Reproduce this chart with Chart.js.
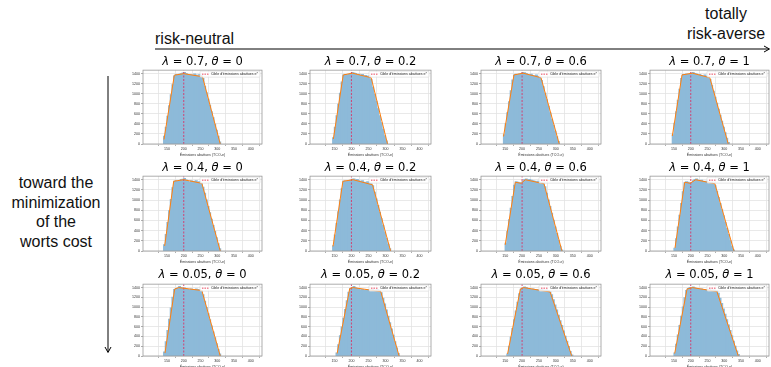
<!DOCTYPE html>
<html>
<head>
<meta charset="utf-8">
<script src="https://cdn.jsdelivr.net/npm/chart.js@4.4.1/dist/chart.umd.min.js"></script>
<style>
  body { margin: 0; background: #fff; }
  #fig { position: relative; width: 771px; height: 367px; overflow: hidden; font-family: "Liberation Sans", Arial, sans-serif; }
  .title { position: absolute; font-family: "DejaVu Sans", sans-serif; font-size: 11.5px; white-space: nowrap; transform: translate(-50%, -50%); color: #000; }
  .title i { font-style: oblique; }
  .note { position: absolute; font-size: 16px; line-height: 20px; color: #111; white-space: nowrap; }
  canvas { position: absolute; }
</style>
</head>
<body>
<div id="fig">
  <svg width="771" height="367" style="position:absolute;left:0;top:0">
    <line x1="155" y1="49" x2="769" y2="49" stroke="#000" stroke-width="1"/>
    <polyline points="764,46 769.5,49 764,52" fill="none" stroke="#000" stroke-width="1"/>
    <line x1="108" y1="76" x2="108" y2="352" stroke="#000" stroke-width="1"/>
    <polyline points="105,347 108,352.5 111,347" fill="none" stroke="#000" stroke-width="1"/>
  </svg>
  <div class="note" style="left:155px;top:29px">risk-neutral</div>
  <div class="note" style="left:726px;top:4px;transform:translateX(-50%);text-align:center">totally<br>risk-averse</div>
  <div class="note" style="left:56px;top:173px;transform:translateX(-50%);text-align:center;line-height:19.7px">toward the<br>minimization<br>of the<br>worts cost</div>
</div>
<script>
const lambdas = [0.7, 0.4, 0.05];
const thetas = [0, 0.2, 0.6, 1];
const target = 200;
const binWidth = 5;
const xTicks = [150, 200, 250, 300, 350, 400];
const yTicks = [0, 200, 400, 600, 800, 1000, 1200, 1400];
const xLabel = 'Émissions abattues (TCO₂e)';
const legendLabel = "Cible d'émissions abattues e*";

// first bin edge of every histogram, rows = lambda, columns = theta
const binStarts = [[140, 145, 145, 145], [140, 145, 150, 150], [140, 155, 155, 150]];

const counts07_0 = [150,330,550,760,980,1180,1350,1380,1370,1385,1395,1410,1420,1400,1380,1360,1375,1360,1390,1370,1350,1380,1360,1300,1150,1020,890,770,640,520,390,270,150,40];
const counts07_02 = [120,330,560,790,1010,1230,1370,1380,1370,1385,1400,1420,1410,1400,1370,1385,1360,1380,1350,1360,1340,1350,1280,1130,990,850,700,560,420,290,160,60];
const counts07_06 = [180,400,620,840,1060,1270,1370,1385,1375,1390,1395,1420,1415,1400,1380,1370,1385,1360,1350,1370,1340,1330,1260,1140,1010,880,750,620,490,370,250,140,50];
const counts07_1 = [180,410,640,870,1090,1300,1380,1370,1390,1380,1400,1410,1420,1400,1390,1370,1380,1360,1350,1370,1340,1330,1280,1170,1050,930,810,690,570,450,330,220,110,30];
const counts04_0 = [120,320,560,790,1010,1240,1370,1380,1365,1380,1400,1405,1420,1395,1370,1350,1380,1360,1370,1380,1350,1360,1330,1250,1130,1000,870,750,620,500,380,260,140,40];
const counts04_02 = [100,310,540,770,1000,1220,1370,1375,1365,1380,1390,1405,1410,1395,1400,1380,1360,1380,1350,1340,1360,1330,1320,1280,1150,1020,890,760,630,500,370,250,130,40];
const counts04_06 = [150,380,610,840,1070,1290,1360,1350,1340,1320,1370,1400,1410,1395,1400,1390,1380,1370,1360,1370,1350,1340,1330,1260,1130,1000,870,740,600,470,340,210,90,20];
const counts04_1 = [50,240,470,700,930,1160,1340,1360,1350,1330,1340,1380,1400,1410,1390,1380,1390,1370,1360,1370,1350,1340,1350,1330,1280,1170,1050,930,810,690,560,440,320,200,90,20];
const counts005_0 = [80,290,520,750,980,1200,1360,1380,1390,1420,1400,1380,1390,1370,1360,1350,1370,1360,1350,1370,1360,1350,1340,1250,1120,990,860,740,610,490,370,250,130,40];
const counts005_02 = [60,230,410,590,770,950,1130,1300,1380,1400,1420,1390,1380,1370,1350,1360,1340,1350,1360,1340,1350,1360,1340,1350,1360,1340,1290,1180,1060,940,810,680,550,420,290,160,50];
const counts005_06 = [40,200,380,560,740,920,1100,1270,1370,1390,1410,1400,1380,1370,1360,1370,1350,1360,1350,1340,1360,1350,1340,1350,1340,1310,1250,1150,1040,940,830,720,620,510,400,300,190,90,20];
const counts005_1 = [60,240,430,620,810,1000,1190,1340,1380,1400,1390,1410,1390,1380,1370,1360,1370,1350,1360,1340,1350,1360,1340,1350,1340,1330,1280,1180,1070,960,850,740,630,520,410,300,200,100,30];

// orange fitted curve, [emissions, count]
const fit07_0 = [[141,90],[172,1370],[200,1400],[256,1340],[309,0]];
const fit07_02 = [[147,100],[176,1375],[203,1410],[258,1320],[306,0]];
const fit07_06 = [[145,150],[176,1375],[203,1410],[256,1320],[310,0]];
const fit07_1 = [[145,160],[174,1375],[205,1410],[257,1320],[312,0]];
const fit04_0 = [[143,100],[170,1370],[200,1400],[254,1330],[309,0]];
const fit04_02 = [[146,90],[175,1370],[205,1400],[262,1300],[315,0]];
const fit04_06 = [[150,120],[180,1350],[197,1330],[210,1400],[265,1320],[318,0]];
const fit04_1 = [[153,60],[182,1350],[198,1330],[215,1400],[272,1320],[329,0]];
const fit005_0 = [[144,60],[173,1370],[185,1400],[254,1340],[309,0]];
const fit005_02 = [[158,50],[195,1380],[205,1400],[286,1320],[340,0]];
const fit005_06 = [[157,40],[195,1370],[205,1400],[283,1310],[347,0]];
const fit005_1 = [[152,50],[189,1370],[205,1400],[278,1320],[342,0]];

const countsGrid = [
    [counts07_0, counts07_02, counts07_06, counts07_1],
    [counts04_0, counts04_02, counts04_06, counts04_1],
    [counts005_0, counts005_02, counts005_06, counts005_1]
];
const fitGrid = [
    [fit07_0, fit07_02, fit07_06, fit07_1],
    [fit04_0, fit04_02, fit04_06, fit04_1],
    [fit005_0, fit005_02, fit005_06, fit005_1]
];

// plot areas in page pixels
const colLeft = [143, 310, 481, 650];
const colRight = [262, 431, 601, 769];
const rowTop = [68, 174, 282];
const rowBottom = [144, 251, 356];
const titleY = [61, 167, 274];
const xMin = 108, xMax = 404, yMax = 1470;

Chart.defaults.font.family = '"Liberation Sans", Arial, sans-serif';

const frameLegend = {
    id: 'frameLegend',
    afterDraw(chart) {
        const { ctx, chartArea: a } = chart;
        ctx.save();
        ctx.strokeStyle = '#9a9a9a';
        ctx.lineWidth = 0.8;
        ctx.strokeRect(a.left, a.top, a.right - a.left, a.bottom - a.top);

        ctx.font = '3.6px "Liberation Sans", Arial, sans-serif';
        const tw = ctx.measureText(legendLabel).width;
        const w = tw + 13, h = 6;
        const x0 = a.right - 2 - w, y0 = a.top + 1;
        ctx.fillStyle = 'rgba(255,255,255,0.8)';
        ctx.strokeStyle = '#d0d0d0';
        ctx.lineWidth = 0.5;
        ctx.beginPath();
        ctx.roundRect(x0, y0, w, h, 1);
        ctx.fill();
        ctx.stroke();
        ctx.strokeStyle = '#e8364f';
        ctx.lineWidth = 0.9;
        ctx.setLineDash([1.5, 1]);
        ctx.beginPath();
        ctx.moveTo(x0 + 2, y0 + h / 2);
        ctx.lineTo(x0 + 9, y0 + h / 2);
        ctx.stroke();
        ctx.setLineDash([]);
        ctx.fillStyle = '#222';
        ctx.textBaseline = 'middle';
        ctx.fillText(legendLabel, x0 + 11, y0 + h / 2 + 0.2);
        ctx.restore();
    }
};

const fig = document.getElementById('fig');

function makeSubplot(r, c) {
    const L = colLeft[c], R = colRight[c], T = rowTop[r], B = rowBottom[r];
    const canvas = document.createElement('canvas');
    canvas.width = R - L + 17;
    canvas.height = B - T + 14;
    canvas.style.left = (L - 16) + 'px';
    canvas.style.top = (T - 1) + 'px';
    fig.appendChild(canvas);

    const title = document.createElement('div');
    title.className = 'title';
    title.style.left = ((L + R) / 2) + 'px';
    title.style.top = titleY[r] + 'px';
    title.innerHTML = `<i>λ</i> = ${lambdas[r]}, <i>θ</i> = ${thetas[c]}`;
    fig.appendChild(title);

    const start = binStarts[r][c];
    const bars = countsGrid[r][c].map((v, i) => ({ x: start + binWidth * (i + 0.5), y: v }));
    const fit = fitGrid[r][c].map(([x, y]) => ({ x, y }));

    new Chart(canvas, {
        type: 'bar',
        data: {
            datasets: [
                {
                    type: 'line',
                    data: fit,
                    borderColor: '#ff7f0e',
                    borderWidth: 1,
                    pointRadius: 0,
                    tension: 0,
                    order: 0
                },
                {
                    type: 'line',
                    data: [{ x: target, y: 0 }, { x: target, y: yMax }],
                    borderColor: '#d6386a',
                    borderWidth: 0.9,
                    borderDash: [2, 1.5],
                    pointRadius: 0,
                    order: 1
                },
                {
                    type: 'bar',
                    data: bars,
                    backgroundColor: '#8dbad9',
                    borderWidth: 0,
                    inflateAmount: 0.6,
                    barPercentage: 1,
                    categoryPercentage: 1,
                    order: 2
                }
            ]
        },
        options: {
            responsive: false,
            animation: false,
            layout: { padding: { top: 1, right: 1, left: 0, bottom: 0 } },
            plugins: { legend: { display: false }, tooltip: { enabled: false } },
            scales: {
                x: {
                    type: 'linear',
                    min: xMin,
                    max: xMax,
                    afterBuildTicks: s => { s.ticks = xTicks.map(v => ({ value: v })); },
                    afterFit: s => { s.height = 13; },
                    ticks: { font: { size: 3.6 }, color: '#333', padding: 1, maxRotation: 0, autoSkip: false, callback: v => String(v) },
                    grid: { color: '#e3e3e3', lineWidth: 0.8, tickLength: 2, tickColor: '#999' },
                    border: { display: false },
                    title: { display: true, text: xLabel, font: { size: 3.6 }, color: '#333', padding: 0 }
                },
                y: {
                    min: 0,
                    max: yMax,
                    afterBuildTicks: s => { s.ticks = yTicks.map(v => ({ value: v })); },
                    afterFit: s => { s.width = 16; },
                    ticks: { font: { size: 3.6 }, color: '#333', padding: 1, autoSkip: false, callback: v => String(v) },
                    grid: { color: '#e3e3e3', lineWidth: 0.8, tickLength: 2, tickColor: '#999' },
                    border: { display: false }
                }
            }
        },
        plugins: [frameLegend]
    });
}

for (let r = 0; r < lambdas.length; r++) {
    for (let c = 0; c < thetas.length; c++) {
        makeSubplot(r, c);
    }
}
</script>
</body>
</html>
